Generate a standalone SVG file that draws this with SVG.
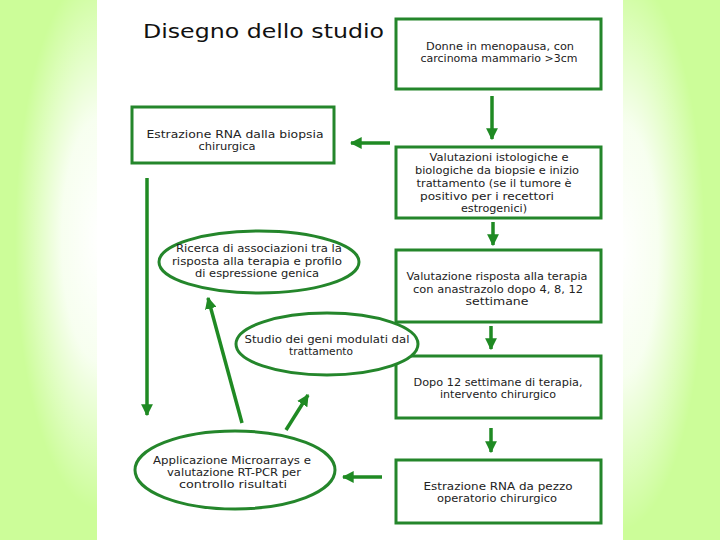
<svg xmlns="http://www.w3.org/2000/svg" width="720" height="540" viewBox="0 0 720 540">
  <defs>
    <radialGradient id="glowL" cx="100" cy="240" r="1" gradientUnits="userSpaceOnUse" gradientTransform="translate(100 240) scale(85 270) translate(-100 -240)">
      <stop offset="0" stop-color="#ffffff" stop-opacity="1"/>
      <stop offset="0.45" stop-color="#ffffff" stop-opacity="0.85"/>
      <stop offset="1" stop-color="#ffffff" stop-opacity="0"/>
    </radialGradient>
    <radialGradient id="glowR" cx="620" cy="250" r="1" gradientUnits="userSpaceOnUse" gradientTransform="translate(620 250) scale(85 280) translate(-620 -250)">
      <stop offset="0" stop-color="#ffffff" stop-opacity="1"/>
      <stop offset="0.45" stop-color="#ffffff" stop-opacity="0.85"/>
      <stop offset="1" stop-color="#ffffff" stop-opacity="0"/>
    </radialGradient>
    <marker id="ah" viewBox="0 0 10 10" refX="9" refY="5" markerWidth="3.4" markerHeight="3.4" markerUnits="strokeWidth" orient="auto">
      <path d="M0,0 L10,5 L0,10 z" fill="#1f8a23"/>
    </marker>
  </defs>
  <style>
    .box { fill: #ffffff; stroke: #24862b; stroke-width: 3; }
    .ell { fill: #ffffff; stroke: #24862b; stroke-width: 3; }
    .t { font-family: "DejaVu Sans", "Verdana", sans-serif; font-size: 10px; fill: #222222; text-anchor: middle; }
    .title { font-family: "DejaVu Sans", sans-serif; font-size: 19px; fill: #111111; }
    .arr { fill: none; stroke: #1f8a23; stroke-width: 3.5; marker-end: url(#ah); }
  </style>

  <!-- background -->
  <rect x="0" y="0" width="720" height="540" fill="#ccfd99"/>
  <rect x="0" y="0" width="97" height="540" fill="url(#glowL)"/>
  <rect x="623" y="0" width="97" height="540" fill="url(#glowR)"/>
  <rect x="97" y="0" width="526" height="540" fill="#ffffff"/>

  <text class="title" x="143" y="38" textLength="241" lengthAdjust="spacingAndGlyphs">Disegno dello studio</text>

  <g id="connectors">
    <line class="arr" x1="492" y1="96" x2="492" y2="139"/>
    <line class="arr" x1="493" y1="222" x2="493" y2="245"/>
    <line class="arr" x1="491" y1="326" x2="491" y2="349"/>
    <line class="arr" x1="491" y1="428" x2="491" y2="452"/>
    <line class="arr" x1="390" y1="143" x2="351" y2="143"/>
    <line class="arr" x1="382" y1="477" x2="343" y2="477"/>
    <line class="arr" x1="147" y1="178" x2="147" y2="415"/>
    <line class="arr" x1="242" y1="423" x2="208" y2="298"/>
    <line class="arr" x1="286" y1="430" x2="308" y2="395"/>
  </g>

  <g id="n1">
    <rect class="box" x="396" y="19" width="205" height="70"/>
    <text class="t" x="500" y="50" textLength="148" lengthAdjust="spacingAndGlyphs">Donne in menopausa, con</text>
    <text class="t" x="499" y="62" textLength="157" lengthAdjust="spacingAndGlyphs">carcinoma mammario &gt;3cm</text>
  </g>

  <g id="n2">
    <rect class="box" x="396" y="147" width="205" height="71"/>
    <text class="t" x="499" y="161" textLength="139" lengthAdjust="spacingAndGlyphs">Valutazioni istologiche e</text>
    <text class="t" x="497" y="174" textLength="164" lengthAdjust="spacingAndGlyphs">biologiche da biopsie e inizio</text>
    <text class="t" x="494" y="187" textLength="155" lengthAdjust="spacingAndGlyphs">trattamento (se il tumore è</text>
    <text class="t" x="487" y="200" textLength="134" lengthAdjust="spacingAndGlyphs">positivo per i recettori</text>
    <text class="t" x="494" y="212" textLength="66" lengthAdjust="spacingAndGlyphs">estrogenici)</text>
  </g>

  <g id="n3">
    <rect class="box" x="396" y="250" width="205" height="72"/>
    <text class="t" x="497" y="280" textLength="181" lengthAdjust="spacingAndGlyphs">Valutazione risposta alla terapia</text>
    <text class="t" x="498" y="293" textLength="170" lengthAdjust="spacingAndGlyphs">con anastrazolo dopo 4, 8, 12</text>
    <text class="t" x="497" y="305" textLength="63" lengthAdjust="spacingAndGlyphs">settimane</text>
  </g>

  <g id="n4">
    <rect class="box" x="396" y="356" width="205" height="62"/>
    <text class="t" x="498" y="386" textLength="169" lengthAdjust="spacingAndGlyphs">Dopo 12 settimane di terapia,</text>
    <text class="t" x="498" y="398" textLength="116" lengthAdjust="spacingAndGlyphs">intervento chirurgico</text>
  </g>

  <g id="n5">
    <rect class="box" x="396" y="460" width="205" height="63"/>
    <text class="t" x="498" y="490" textLength="149" lengthAdjust="spacingAndGlyphs">Estrazione RNA da pezzo</text>
    <text class="t" x="497" y="502" textLength="120" lengthAdjust="spacingAndGlyphs">operatorio chirurgico</text>
  </g>

  <g id="n6">
    <rect class="box" x="132" y="107" width="202" height="56"/>
    <text class="t" x="235" y="138" textLength="177" lengthAdjust="spacingAndGlyphs">Estrazione RNA dalla biopsia</text>
    <text class="t" x="227" y="150" textLength="57" lengthAdjust="spacingAndGlyphs">chirurgica</text>
  </g>

  <g id="n7">
    <ellipse class="ell" cx="259" cy="262" rx="100" ry="31"/>
    <text class="t" x="259" y="252" textLength="166" lengthAdjust="spacingAndGlyphs">Ricerca di associazioni tra la</text>
    <text class="t" x="257" y="265" textLength="170" lengthAdjust="spacingAndGlyphs">risposta alla terapia e profilo</text>
    <text class="t" x="257" y="277" textLength="124" lengthAdjust="spacingAndGlyphs">di espressione genica</text>
  </g>

  <g id="n8">
    <ellipse class="ell" cx="327" cy="344" rx="91" ry="31"/>
    <text class="t" x="327" y="343" textLength="165" lengthAdjust="spacingAndGlyphs">Studio dei geni modulati dal</text>
    <text class="t" x="321" y="355" textLength="64" lengthAdjust="spacingAndGlyphs">trattamento</text>
  </g>

  <g id="n9">
    <ellipse class="ell" cx="235" cy="470" rx="100" ry="39"/>
    <text class="t" x="232" y="464" textLength="158" lengthAdjust="spacingAndGlyphs">Applicazione Microarrays e</text>
    <text class="t" x="234" y="476" textLength="134" lengthAdjust="spacingAndGlyphs">valutazione RT-PCR per</text>
    <text class="t" x="233" y="488" textLength="108" lengthAdjust="spacingAndGlyphs">controllo risultati</text>
  </g>
</svg>
